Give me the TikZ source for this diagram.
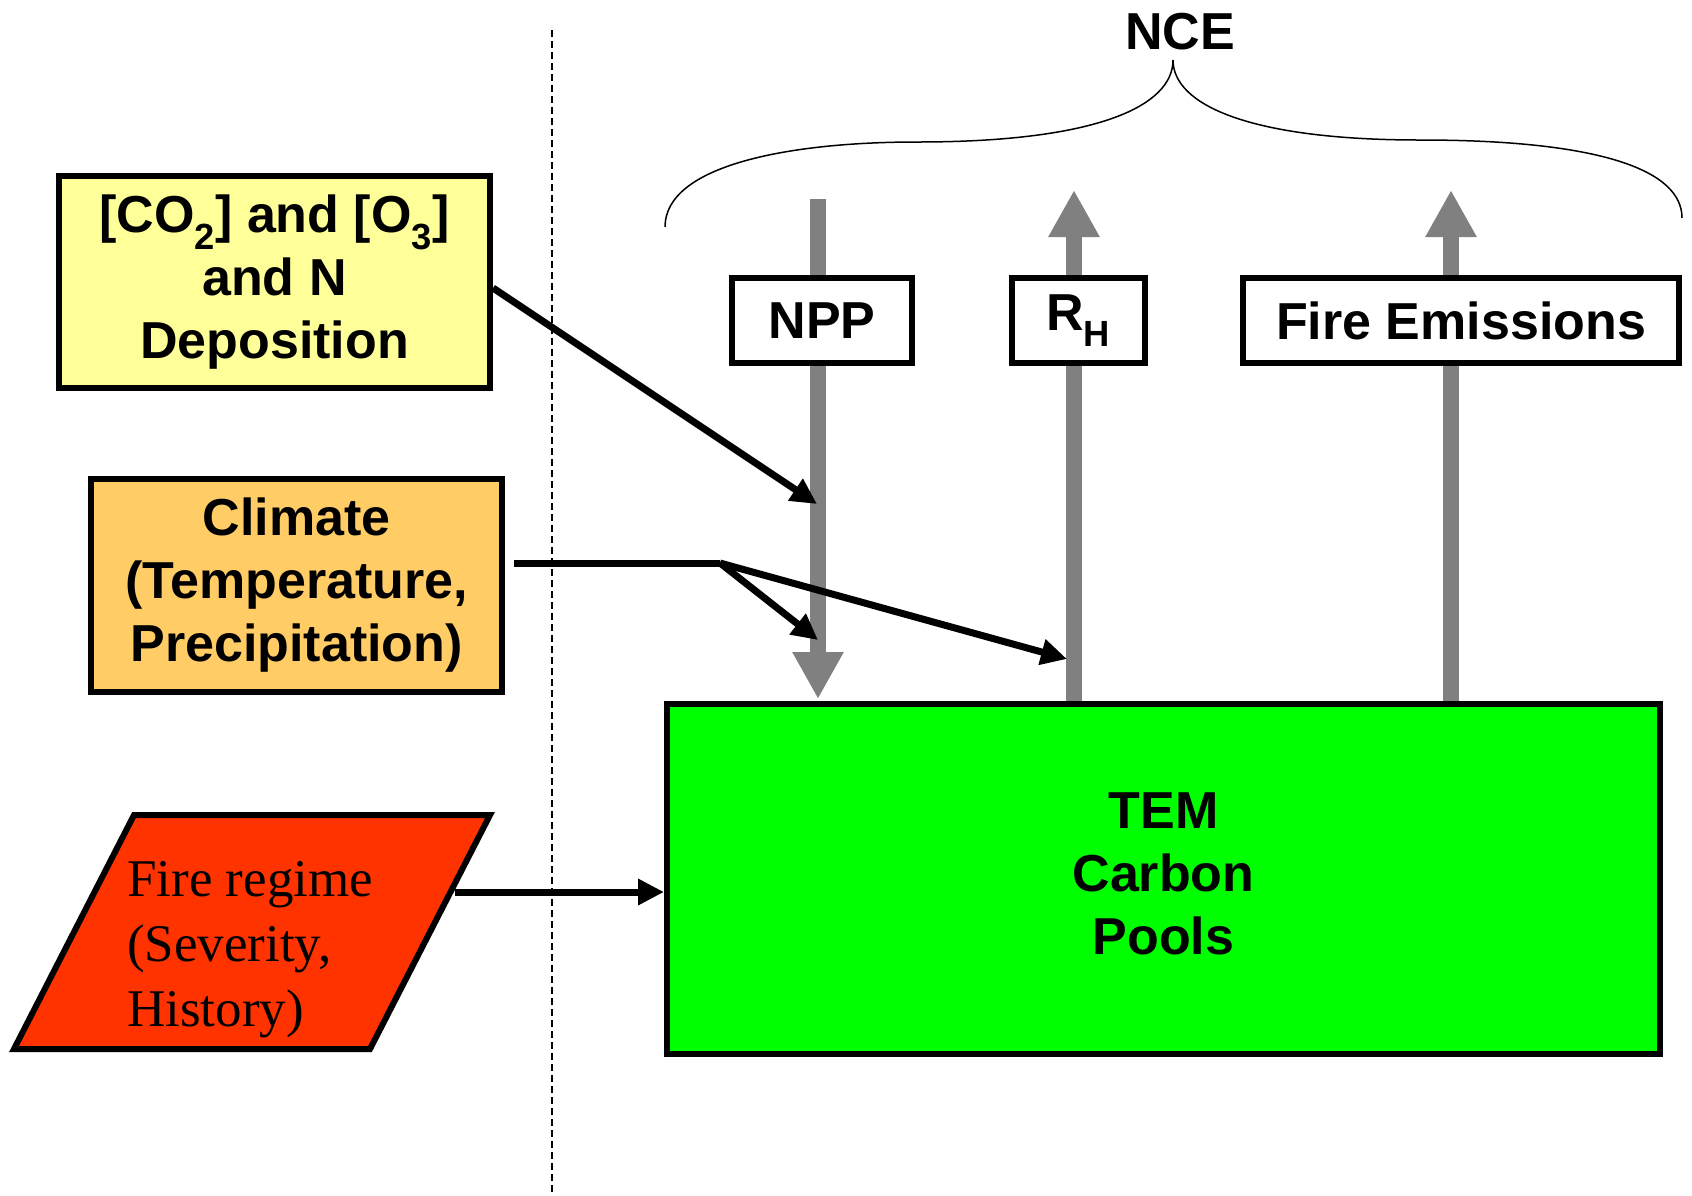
\documentclass[tikz,border=0pt]{standalone}
\usepackage{fontspec}
\setmainfont{Liberation Sans}
\newfontfamily\serifrm{Liberation Serif}
\usetikzlibrary{arrows.meta}

\definecolor{depyellow}{HTML}{FFFF99}
\definecolor{climorange}{HTML}{FFCC66}
\definecolor{firered}{HTML}{FF3300}
\definecolor{poolgreen}{HTML}{00FF00}
\definecolor{fluxgray}{HTML}{808080}

\begin{document}
\begin{tikzpicture}[x=1pt, y=-1pt,
	box/.style={draw, line width=6pt, inner sep=0pt, align=center, font=\bfseries\fontsize{52}{63}\selectfont},
	driver/.style={line width=7pt, -{Triangle[length=26pt,width=25pt]}},
	flux/.style={line width=16pt, draw=fluxgray, -{Triangle[length=47pt,width=48pt]}}]
	\useasboundingbox (0,0) rectangle (1692,1195);

	\draw[dash pattern=on 7pt off 4pt, line width=1.5pt] (552,30) -- (552,1192);

	\node[box, fill=poolgreen, minimum width=993pt, minimum height=350pt] (tem) at (1163.5,879)
		{\raisebox{8pt}{\begin{tabular}{@{}c@{}}TEM\\Carbon\\Pools\end{tabular}}};

	\coordinate (npptop) at (818,199);
	\coordinate (rhtop) at (1074,190);
	\coordinate (emtop) at (1451,190);
	\draw[flux, shorten >=2pt] (npptop) -- (npptop |- tem.north);
	\foreach \f in {rhtop,emtop}{
		\draw[flux] (\f |- tem.north) -- (\f);
	}

	\node[box, fill=white, minimum width=180pt, minimum height=85pt] (npp) at (822,320.5) {NPP};
	\node[box, fill=white, minimum width=133pt, minimum height=85pt] (rh) at (1078.5,320.5) {R\textsubscript{H}};
	\node[box, fill=white, minimum width=436pt, minimum height=85pt] (em) at (1461,320.5) {Fire Emissions};

	\node[font=\bfseries\fontsize{52}{63}\selectfont] (nce) at (1180,32) {NCE};
	\draw[line width=1.5pt] (665,227) .. controls (665,165) and (790,142) .. (917,142)
		.. controls (1100,142) and (1173,105) .. (1173,60)
		.. controls (1173,105) and (1250,140) .. (1420,140)
		.. controls (1600,140) and (1682,170) .. (1682,218);

	\node[box, fill=depyellow, minimum width=431pt, minimum height=212pt] (co2) at (274.5,282) {[CO\textsubscript{2}] and [O\textsubscript{3}]\\and N\\Deposition};
	\node[box, fill=climorange, minimum width=411pt, minimum height=213pt] (clim) at (296.5,585.5) {Climate\\(Temperature,\\Precipitation)};

	\draw[line width=6pt, fill=firered] (134,815) -- (490,815) -- (370,1049) -- (14,1049) -- cycle;
	\node[anchor=west, align=left, inner sep=0pt, font=\serifrm\fontsize{53}{65}\selectfont] (regime) at (127,950) {Fire regime\\(Severity,\\History)};

	\coordinate (co2in) at (817,504);
	\coordinate (fork) at (720,563);
	\coordinate (nppclim) at (818,640);
	\coordinate (rhclim) at (1067,659);
	\coordinate (regimeout) at (455,892);

	\draw[driver] (co2.east |- 0,288) -- (co2in);
	\draw[line width=7pt, shorten <=9pt] (clim.east |- fork) -- (fork);
	\draw[driver] (fork) -- (nppclim);
	\draw[driver] (fork) -- (rhclim);
	\draw[driver] (regimeout) -- (regimeout -| tem.west);

\end{tikzpicture}
\end{document}
